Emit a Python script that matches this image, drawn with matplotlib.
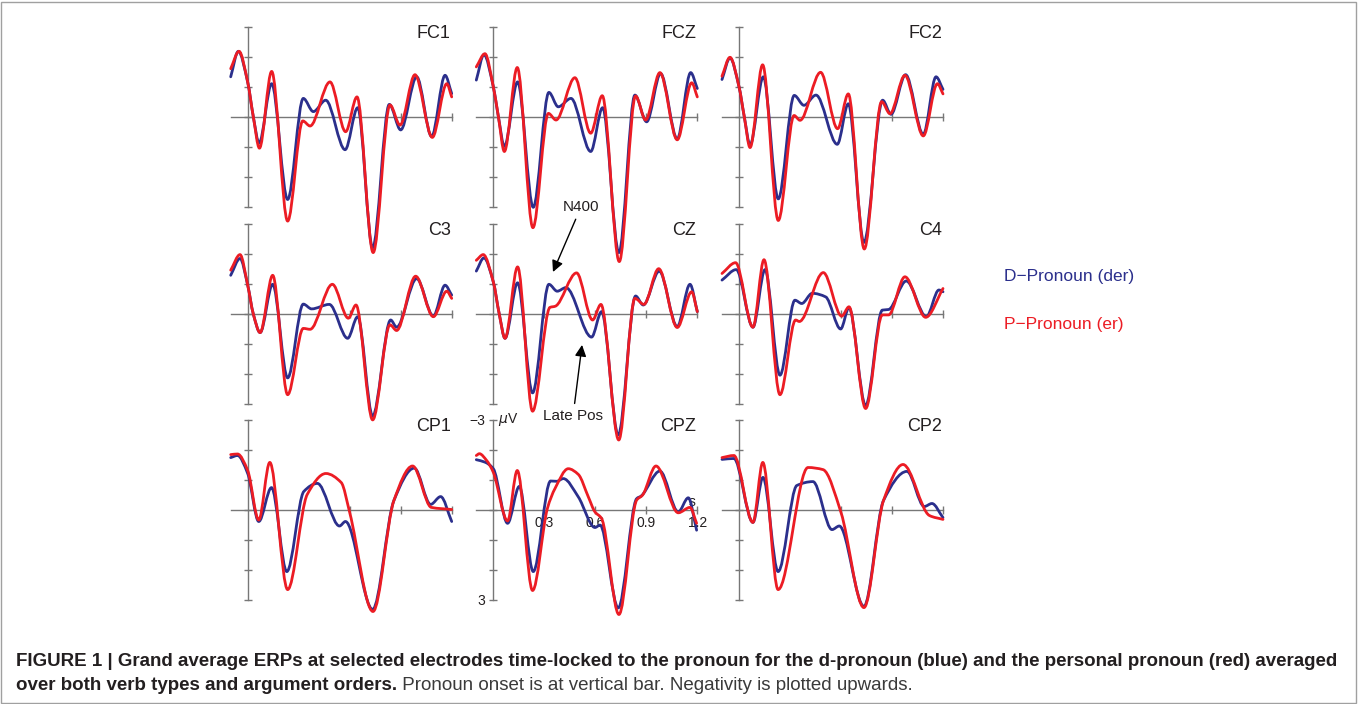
import matplotlib.pyplot as plt
from matplotlib.path import Path
from matplotlib.patches import PathPatch, Rectangle

plt.rcParams['font.family'] = ['Liberation Sans', 'DejaVu Sans']

W, H = 1358, 704

# ERP turning points: time (s), amplitude (uV, negative plotted up)
fc1_der_t = [-0.1, -0.055, 0.0, 0.033, 0.067, 0.141, 0.235, 0.327, 0.386, 0.459, 0.573, 0.647, 0.735, 0.833, 0.900, 0.994, 1.082, 1.161, 1.2]
fc1_der_v = [-1.33, -2.18, -1.15, 0.0, 0.88, -1.10, 2.76, -0.61, -0.17, -0.55, 1.10, -0.30, 4.37, -0.41, 0.44, -1.33, 0.66, -1.38, -0.77]
fc1_er_t = [-0.1, -0.051, 0.0, 0.033, 0.069, 0.141, 0.235, 0.324, 0.367, 0.484, 0.576, 0.643, 0.738, 0.837, 0.896, 0.984, 1.086, 1.171, 1.2]
fc1_er_v = [-1.60, -2.18, -1.15, 0.0, 1.05, -1.51, 3.48, 0.14, 0.31, -1.16, 0.50, -0.66, 4.53, -0.39, 0.28, -1.40, 0.69, -1.10, -0.66]

fcz_der_t = [-0.1, -0.055, 0.0, 0.03, 0.065, 0.143, 0.235, 0.327, 0.382, 0.457, 0.573, 0.643, 0.739, 0.833, 0.902, 0.984, 1.082, 1.161, 1.2]
fcz_der_v = [-1.22, -2.07, -1.0, 0.0, 0.99, -1.16, 3.02, -0.81, -0.33, -0.61, 1.16, -0.30, 4.53, -0.72, 0.17, -1.44, 0.74, -1.47, -0.94]
fcz_er_t = [-0.1, -0.049, 0.0, 0.03, 0.065, 0.141, 0.233, 0.324, 0.369, 0.480, 0.573, 0.641, 0.741, 0.837, 0.896, 0.980, 1.082, 1.167, 1.2]
fcz_er_v = [-1.66, -2.10, -1.0, 0.0, 1.16, -1.64, 3.70, -0.11, 0.11, -1.30, 0.55, -0.70, 4.83, -0.69, 0.11, -1.47, 0.77, -1.13, -0.66]

fc2_der_t = [-0.1, -0.053, 0.0, 0.031, 0.065, 0.143, 0.231, 0.325, 0.382, 0.453, 0.578, 0.643, 0.735, 0.845, 0.894, 0.980, 1.084, 1.159, 1.2]
fc2_der_v = [-1.24, -1.96, -1.0, 0.0, 0.94, -1.33, 2.74, -0.71, -0.38, -0.72, 0.92, -0.43, 4.19, -0.55, -0.08, -1.40, 0.59, -1.33, -0.91]
fc2_er_t = [-0.1, -0.053, 0.0, 0.031, 0.065, 0.139, 0.231, 0.324, 0.359, 0.480, 0.580, 0.643, 0.737, 0.839, 0.888, 0.976, 1.084, 1.167, 1.2]
fc2_er_v = [-1.35, -1.98, -1.0, 0.0, 1.03, -1.73, 3.46, -0.04, 0.12, -1.48, 0.40, -0.76, 4.41, -0.50, -0.10, -1.38, 0.64, -1.10, -0.76]

c3_der_t = [-0.1, -0.045, 0.0, 0.033, 0.073, 0.147, 0.235, 0.327, 0.376, 0.48, 0.588, 0.647, 0.735, 0.841, 0.876, 0.994, 1.092, 1.161, 1.2]
c3_der_v = [-1.29, -1.85, -0.96, 0.0, 0.62, -0.99, 2.13, -0.33, -0.17, -0.32, 0.81, 0.09, 3.40, 0.20, 0.44, -1.18, 0.07, -0.96, -0.63]
c3_er_t = [-0.1, -0.045, 0.0, 0.033, 0.073, 0.147, 0.235, 0.327, 0.367, 0.498, 0.592, 0.637, 0.735, 0.837, 0.876, 0.988, 1.092, 1.171, 1.2]
c3_er_v = [-1.46, -1.98, -0.96, 0.0, 0.62, -1.29, 2.69, 0.48, 0.51, -0.99, 0.14, -0.30, 3.53, 0.36, 0.55, -1.26, 0.09, -0.76, -0.52]

cz_der_t = [-0.1, -0.055, 0.0, 0.035, 0.069, 0.143, 0.231, 0.327, 0.376, 0.427, 0.578, 0.637, 0.735, 0.837, 0.882, 0.976, 1.082, 1.157, 1.2]
cz_der_v = [-1.43, -1.87, -1.07, 0.0, 0.81, -1.04, 2.63, -0.99, -0.76, -0.88, 0.77, -0.08, 4.03, -0.60, -0.30, -1.43, 0.42, -0.99, -0.08]
cz_er_t = [-0.1, -0.059, 0.0, 0.035, 0.069, 0.143, 0.231, 0.333, 0.365, 0.490, 0.584, 0.633, 0.738, 0.833, 0.886, 0.973, 1.082, 1.167, 1.2]
cz_er_v = [-1.79, -1.98, -1.07, 0.0, 0.81, -1.57, 3.24, -0.22, -0.26, -1.37, 0.20, -0.32, 4.20, -0.52, -0.32, -1.51, 0.45, -0.74, -0.08]

c4_der_t = [-0.1, -0.016, 0.082, 0.153, 0.241, 0.329, 0.369, 0.431, 0.51, 0.598, 0.647, 0.745, 0.843, 0.88, 0.984, 1.102, 1.176, 1.2]
c4_der_v = [-1.13, -1.48, 0.44, -1.48, 2.04, -0.46, -0.35, -0.69, -0.57, 0.50, -0.21, 3.05, -0.13, -0.15, -1.10, 0.09, -0.80, -0.74]
c4_er_t = [-0.1, -0.020, 0.082, 0.147, 0.241, 0.333, 0.355, 0.496, 0.604, 0.647, 0.745, 0.843, 0.88, 0.976, 1.098, 1.2]
c4_er_v = [-1.35, -1.71, 0.44, -1.81, 2.69, 0.20, 0.25, -1.38, 0.07, -0.24, 3.15, 0.03, 0.03, -1.24, 0.11, -0.85]

cp1_der_t = [-0.1, -0.06, 0.0, 0.065, 0.14, 0.23, 0.33, 0.41, 0.54, 0.575, 0.735, 0.86, 0.98, 1.076, 1.135, 1.2]
cp1_der_v = [-1.73, -1.8, -1.2, 0.40, -0.73, 2.07, -0.6, -0.87, 0.55, 0.40, 3.33, -0.3, -1.38, -0.17, -0.43, 0.40]
cp1_er_t = [-0.1, -0.06, 0.0, 0.065, 0.13, 0.235, 0.35, 0.46, 0.55, 0.6, 0.737, 0.86, 0.97, 1.08, 1.2]
cp1_er_v = [-1.83, -1.85, -1.3, 0.35, -1.57, 2.67, -0.5, -1.2, -0.9, 0.1, 3.4, -0.3, -1.45, -0.07, 0.0]

cpz_der_t = [-0.1, -0.05, 0.0, 0.084, 0.153, 0.235, 0.337, 0.373, 0.412, 0.5, 0.598, 0.628, 0.735, 0.843, 0.87, 0.98, 1.088, 1.147, 1.196]
cpz_der_v = [-1.66, -1.58, -1.36, 0.46, -0.77, 2.07, -0.95, -0.94, -1.03, -0.42, 0.6, 0.52, 3.28, -0.36, -0.45, -1.28, 0.08, -0.39, 0.69]
cpz_er_t = [-0.1, -0.082, -0.04, 0.0, 0.084, 0.141, 0.231, 0.318, 0.363, 0.441, 0.5, 0.559, 0.598, 0.637, 0.739, 0.843, 0.878, 0.957, 1.088, 1.157, 1.196]
cpz_er_v = [-1.80, -1.86, -1.64, -1.24, 0.38, -1.30, 2.70, -0.03, -0.70, -1.36, -1.17, -0.42, 0.08, 0.30, 3.50, -0.31, -0.48, -1.45, 0.11, -0.07, 0.46]

cp2_der_t = [-0.1, -0.03, 0.082, 0.141, 0.23, 0.34, 0.435, 0.547, 0.59, 0.735, 0.85, 0.988, 1.09, 1.135, 1.2]
cp2_der_v = [-1.67, -1.7, 0.43, -1.07, 2.07, -0.8, -0.93, 0.67, 0.55, 3.23, -0.3, -1.27, -0.1, -0.2, 0.27]
cp2_er_t = [-0.1, -0.03, 0.082, 0.14, 0.23, 0.406, 0.494, 0.6, 0.735, 0.85, 0.965, 1.12, 1.2]
cp2_er_v = [-1.73, -1.8, 0.43, -1.57, 2.67, -1.4, -1.33, 0.1, 3.27, -0.3, -1.5, 0.2, 0.33]

layout = [["FC1", "FCZ", "FC2"], ["C3", "CZ", "C4"], ["CP1", "CPZ", "CP2"]]
curves = {
    "FC1": (fc1_der_t, fc1_der_v, fc1_er_t, fc1_er_v),
    "FCZ": (fcz_der_t, fcz_der_v, fcz_er_t, fcz_er_v),
    "FC2": (fc2_der_t, fc2_der_v, fc2_er_t, fc2_er_v),
    "C3": (c3_der_t, c3_der_v, c3_er_t, c3_er_v),
    "CZ": (cz_der_t, cz_der_v, cz_er_t, cz_er_v),
    "C4": (c4_der_t, c4_der_v, c4_er_t, c4_er_v),
    "CP1": (cp1_der_t, cp1_der_v, cp1_er_t, cp1_er_v),
    "CPZ": (cpz_der_t, cpz_der_v, cpz_er_t, cpz_er_v),
    "CP2": (cp2_der_t, cp2_der_v, cp2_er_t, cp2_er_v),
}
legend_labels = ["D\u2212Pronoun (der)", "P\u2212Pronoun (er)"]
BLUE = "#2b2f8c"
RED = "#ec1c24"
AXC = "#777777"
TXT = "#231f20"


def draw_erp(ax, t, v, color):
    # smooth monotone cubic through the read turning points
    n = len(t)
    s = [(v[i + 1] - v[i]) / (t[i + 1] - t[i]) for i in range(n - 1)]
    m = [0.0] * n
    m[0] = s[0]
    m[-1] = s[-1]
    for i in range(1, n - 1):
        if s[i - 1] * s[i] > 0:
            m[i] = 2 / (1 / s[i - 1] + 1 / s[i])
    verts = [(t[0], v[0])]
    codes = [Path.MOVETO]
    for i in range(n - 1):
        d = t[i + 1] - t[i]
        verts += [(t[i] + d / 3, v[i] + m[i] * d / 3),
                  (t[i + 1] - d / 3, v[i + 1] - m[i + 1] * d / 3),
                  (t[i + 1], v[i + 1])]
        codes += [Path.CURVE4] * 3
    ax.add_patch(PathPatch(Path(verts, codes), fill=False, edgecolor=color, lw=2.0,
                           capstyle='round', joinstyle='round', zorder=3, clip_on=False))


fig = plt.figure(figsize=(W / 100, H / 100), dpi=100)
fig.patch.set_facecolor("white")

col_x0 = [247.7, 493.3, 739.0]   # pixel x of t = 0
row_y0 = [116.7, 314.0, 509.5]   # pixel y of 0 uV
px_s = 170.0
px_uv = 30.0

axes = {}
for r in range(3):
    for c in range(3):
        name = layout[r][c]
        left = col_x0[c] - 0.1 * px_s
        top = row_y0[r] - 3.3 * px_uv
        ax = fig.add_axes([left / W, 1 - (top + 6.6 * px_uv) / H, 1.3 * px_s / W, 6.6 * px_uv / H])
        ax.set_xlim(-0.1, 1.2)
        ax.set_ylim(3.3, -3.3)
        ax.patch.set_visible(False)
        ax.spines['top'].set_visible(False)
        ax.spines['right'].set_visible(False)
        ax.spines['left'].set_position(('data', 0))
        ax.spines['left'].set_bounds(-3, 3)
        ax.spines['bottom'].set_position(('data', 0))
        for sp in ('left', 'bottom'):
            ax.spines[sp].set_color(AXC)
            ax.spines[sp].set_linewidth(1.0)
        ax.set_yticks(range(-3, 4))
        ax.set_xticks([0.3, 0.6, 0.9, 1.2])
        ax.tick_params(direction='inout', length=6, width=1, color=AXC,
                       labelsize=10, labelcolor=TXT)
        if name == "CPZ":
            ax.set_yticklabels(["\u22123", "", "", "", "", "", "3"])
            ax.set_xticklabels(["0.3", "0.6", "0.9", "1.2"])
            ax.tick_params(axis='y', pad=3)
            ax.tick_params(axis='x', pad=2)
            ax.text(0.025, -3.0, r"$\mu$V", fontsize=10, color=TXT, ha='left', va='center')
            ax.text(1.17, -0.25, "s", fontsize=10, color=TXT, ha='center', va='center')
        else:
            ax.set_yticklabels([])
            ax.set_xticklabels([])
        td, vd, te, ve = curves[name]
        draw_erp(ax, td, vd, BLUE)
        draw_erp(ax, te, ve, RED)
        ax.text(1.195, -2.78, name, fontsize=13, color=TXT, ha='right', va='center')
        axes[name] = ax

# component annotations in CZ
cz = axes["CZ"]
cz.annotate("N400", xy=(0.351, -1.40), xytext=(0.516, -3.57), fontsize=11, color=TXT,
            ha='center', va='center', annotation_clip=False,
            arrowprops=dict(arrowstyle='-|>', color='black', lw=1, mutation_scale=17, shrinkB=0))
cz.annotate("Late Pos", xy=(0.522, 1.03), xytext=(0.469, 3.4), fontsize=11, color=TXT,
            ha='center', va='center', annotation_clip=False,
            arrowprops=dict(arrowstyle='-|>', color='black', lw=1, mutation_scale=17, shrinkB=0))

# legend as coloured text
fig.text(1004 / W, 1 - 276 / H, legend_labels[0], color=BLUE, fontsize=12.5, va='center', ha='left')
fig.text(1004 / W, 1 - 324 / H, legend_labels[1], color=RED, fontsize=12.5, va='center', ha='left')

# caption
cap1 = ("FIGURE 1 | Grand average ERPs at selected electrodes time-locked to the pronoun for the "
        "d-pronoun (blue) and the personal pronoun (red) averaged")
cap2b = "over both verb types and argument orders."
cap2r = " Pronoun onset is at vertical bar. Negativity is plotted upwards."
rend = fig.canvas.get_renderer()
t1 = fig.text(16 / W, 1 - 662 / H, cap1, fontsize=12, fontweight='bold', color=TXT, va='center')
fs = 12 * 1321 / t1.get_window_extent(rend).width
t1.set_fontsize(fs)
t2 = fig.text(16 / W, 1 - 686 / H, cap2b, fontsize=fs, fontweight='bold', color=TXT, va='center')
x_end = t2.get_window_extent(rend).x1
fig.text(x_end / W, 1 - 686 / H, cap2r, fontsize=fs, color="#3a3a3a", va='center')

fig.add_artist(Rectangle((1 / W, 1 / H), (W - 3) / W, (H - 3) / H, transform=fig.transFigure,
                         fill=False, edgecolor="#a0a0a0", lw=1))

plt.savefig("out.png", dpi=100)
